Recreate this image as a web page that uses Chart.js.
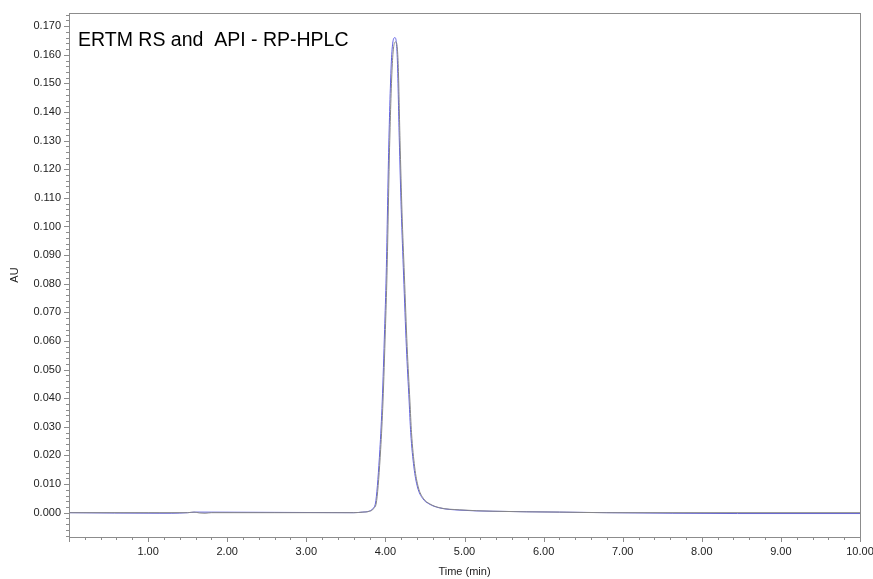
<!DOCTYPE html>
<html>
<head>
<meta charset="utf-8">
<script src="https://cdn.jsdelivr.net/npm/chart.js@4"></script>
<style>
  html, body { margin: 0; padding: 0; background: #fff; }
  #wrap { width: 873px; height: 579px; }
</style>
</head>
<body>
<div id="wrap"><canvas id="chart"></canvas></div>
<script>
// chromatogram traces, time in min, absorbance in AU
const grayTime = [0, 1.0, 1.15, 1.5, 1.58, 1.65, 1.72, 1.8, 3.6, 3.72, 3.80, 3.85, 3.89, 3.94, 3.97, 4.00, 4.02, 4.055, 4.09, 4.13, 4.16, 4.185, 4.21, 4.24, 4.275, 4.31, 4.33, 4.37, 4.415, 4.48, 4.56, 4.69, 4.94, 5.36, 6.2, 6.8, 10];
const grayAU   = [0, 0, 0, 0, 0.0002, -0.0001, -0.0002, 0, 0, 0.0002, 0.0005, 0.0014, 0.0043, 0.022, 0.039, 0.064, 0.083, 0.130, 0.158, 0.1645, 0.158, 0.130, 0.105, 0.083, 0.058, 0.039, 0.028, 0.016, 0.009, 0.005, 0.0031, 0.0017, 0.001, 0.0005, 0.0002, 0, 0];
const blueTime = [0, 1.15, 1.3, 1.5, 1.6, 3.6, 3.71, 3.79, 3.84, 3.88, 3.93, 3.96, 3.99, 4.01, 4.045, 4.08, 4.12, 4.15, 4.175, 4.20, 4.23, 4.265, 4.30, 4.32, 4.36, 4.405, 4.47, 4.55, 4.68, 4.93, 5.36, 6.2, 6.8, 8.45, 10];
const blueAU   = [0, -0.0002, -0.0002, 0, 0.0002, 0, 0.0002, 0.0005, 0.0014, 0.0043, 0.022, 0.039, 0.064, 0.083, 0.131, 0.160, 0.166, 0.159, 0.131, 0.106, 0.083, 0.058, 0.039, 0.028, 0.016, 0.009, 0.005, 0.0031, 0.0017, 0.0009, 0.0005, 0.0002, 0, -0.0003, -0.0003];
const yLabels = ['0.000', '0.010', '0.020', '0.030', '0.040', '0.050', '0.060', '0.070', '0.080', '0.090', '0.100', '0.110', '0.120', '0.130', '0.140', '0.150', '0.160', '0.170'];
const xLabels = ['1.00', '2.00', '3.00', '4.00', '5.00', '6.00', '7.00', '8.00', '9.00', '10.00'];
const chartTitle = 'ERTM RS and  API - RP-HPLC';

const toPoints = (t, v) => t.map((x, i) => ({ x: x, y: v[i] }));
const fnt = 'Liberation Sans, Arial, sans-serif';

const frame = {
  id: 'frame',
  afterDraw(chart) {
    const ctx = chart.ctx, a = chart.chartArea;
    const xs = chart.scales.x, ys = chart.scales.y;
    ctx.save();
    ctx.strokeStyle = '#8c8c8c';
    ctx.lineWidth = 1;
    ctx.strokeRect(Math.round(a.left) + 0.5, Math.round(a.top) + 0.5, Math.round(a.right - a.left), Math.round(a.bottom - a.top));
    ctx.beginPath();
    for (let i = 0; i <= 50; i++) {
      const px = Math.round(xs.getPixelForValue(i / 5)) + 0.5;
      const len = i % 5 === 0 ? 5 : 3;
      ctx.moveTo(px, Math.round(a.bottom));
      ctx.lineTo(px, Math.round(a.bottom) + len);
    }
    for (let i = -4; i <= 87; i++) {
      const py = Math.round(ys.getPixelForValue(i / 500)) + 0.5;
      const len = i % 5 === 0 ? 5 : 3;
      ctx.moveTo(Math.round(a.left), py);
      ctx.lineTo(Math.round(a.left) - len, py);
    }
    ctx.stroke();
    ctx.fillStyle = '#000';
    ctx.font = '19.5px ' + fnt;
    ctx.textBaseline = 'alphabetic';
    ctx.fillText(chartTitle, 78, 46);
    ctx.restore();
  }
};

new Chart(document.getElementById('chart'), {
  type: 'line',
  data: {
    datasets: [
      { label: 'API', data: toPoints(blueTime, blueAU), borderColor: 'rgb(95,95,225)', borderWidth: 1, pointRadius: 0, cubicInterpolationMode: 'monotone', order: 2 },
      { label: 'RS', data: toPoints(grayTime, grayAU), borderColor: 'rgb(135,135,135)', borderWidth: 1, pointRadius: 0, cubicInterpolationMode: 'monotone', order: 1 }
    ]
  },
  plugins: [frame],
  options: {
    responsive: true,
    maintainAspectRatio: false,
    animation: false,
    layout: { padding: { top: 13, right: 13, left: 0, bottom: 0 } },
    plugins: { legend: { display: false }, tooltip: { enabled: false } },
    scales: {
      x: {
        type: 'linear', min: 0, max: 10,
        afterBuildTicks(s) { s.ticks = xLabels.map(l => ({ value: parseFloat(l) })); },
        afterFit(s) { s.height = 42; s.paddingLeft = 0; s.paddingRight = 0; },
        ticks: { autoSkip: false, maxRotation: 0, padding: 8, color: '#222', font: { family: fnt, size: 11 },
          callback: (v) => xLabels.find(l => parseFloat(l) === v) || '' },
        grid: { display: false, drawTicks: false },
        border: { display: false },
        title: { display: true, text: 'Time (min)', color: '#222', font: { family: fnt, size: 11 }, padding: { top: 0, bottom: 0 } }
      },
      y: {
        type: 'linear', min: -0.0085, max: 0.1746,
        afterBuildTicks(s) { s.ticks = yLabels.map(l => ({ value: parseFloat(l) })); },
        afterFit(s) { s.width = 69; s.paddingTop = 0; s.paddingBottom = 0; },
        ticks: { autoSkip: false, padding: 8, color: '#222', font: { family: fnt, size: 11 },
          callback: (v) => yLabels.find(l => Math.abs(parseFloat(l) - v) < 1e-9) || '' },
        grid: { display: false, drawTicks: false },
        border: { display: false },
        title: { display: true, text: 'AU', color: '#222', font: { family: fnt, size: 11 }, padding: { top: 8, bottom: 0 } }
      }
    }
  }
});
</script>
</body>
</html>
